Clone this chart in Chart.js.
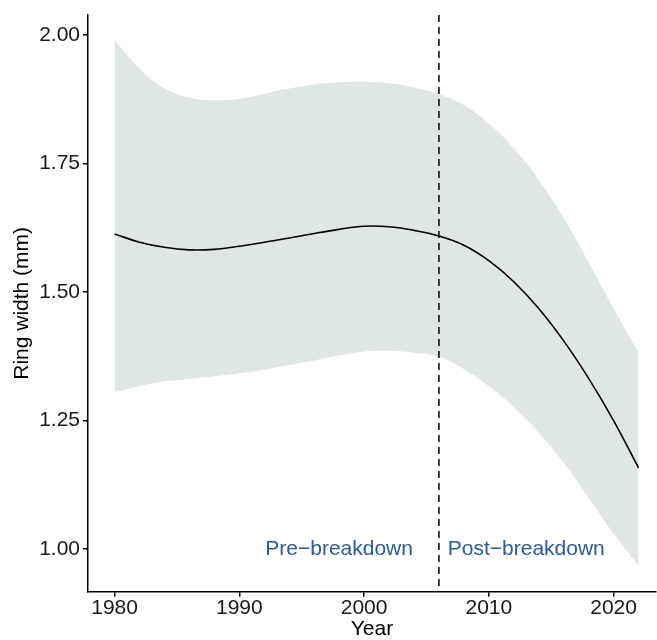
<!DOCTYPE html>
<html>
<head>
<meta charset="utf-8">
<script src="https://cdn.jsdelivr.net/npm/chart.js@4.4.1/dist/chart.umd.min.js"></script>
<style>
  body { margin: 0; background: #fff; }
  canvas { display: block; }
</style>
</head>
<body>
<canvas id="myChart" width="657" height="640"></canvas>
<script>
// values
var years = [1980, 1982, 1984, 1986, 1988, 1990, 1992, 1994, 1996, 1998, 2000,
             2002, 2004, 2006, 2008, 2010, 2012, 2014, 2016, 2018, 2020, 2022];
var fitValues = [1.613, 1.597, 1.587, 1.582, 1.583, 1.589, 1.597, 1.605, 1.614, 1.622, 1.628,
                 1.627, 1.620, 1.609, 1.591, 1.561, 1.520, 1.468, 1.405, 1.332, 1.250, 1.158];
var upperValues = [1.990, 1.935, 1.896, 1.878, 1.873, 1.876, 1.886, 1.896, 1.904, 1.908, 1.909,
                   1.906, 1.898, 1.885, 1.864, 1.828, 1.780, 1.718, 1.644, 1.558, 1.468, 1.383];
var lowerValues = [1.305, 1.317, 1.326, 1.331, 1.336, 1.342, 1.349, 1.358, 1.367, 1.377, 1.384,
                   1.386, 1.382, 1.374, 1.350, 1.317, 1.276, 1.226, 1.168, 1.100, 1.030, 0.967];
var xTicks = [1980, 1990, 2000, 2010, 2020];
var yTicks = [1.00, 1.25, 1.50, 1.75, 2.00];
var breakYear = 2006;
var labels = ["Pre−breakdown", "Post−breakdown"];
var labelYears = [1998, 2013];
var labelValue = 1.00;

var FONT = "'Liberation Sans', Arial, Helvetica, sans-serif";
var BAND = "rgb(223,231,227)";
var TEXT_BLUE = "#2a5b96";

function pts(values){
    return years.map(function(v, i){ return {x: v, y: values[i]}; });
}

// dashed break line and the two period labels
var breakPlugin = {
    id: "breakLine",
    afterDatasetsDraw: function(chart){
        var ctx = chart.ctx, area = chart.chartArea;
        var xs = chart.scales.x, ys = chart.scales.y;
        var px = xs.getPixelForValue(breakYear);
        ctx.save();
        ctx.strokeStyle = "#000";
        ctx.lineWidth = 1.5;
        ctx.setLineDash([7, 5]);
        ctx.beginPath();
        ctx.moveTo(px, area.top);
        ctx.lineTo(px, area.bottom);
        ctx.stroke();
        ctx.setLineDash([]);
        ctx.fillStyle = TEXT_BLUE;
        ctx.font = "21px " + FONT;
        ctx.textAlign = "center";
        ctx.textBaseline = "middle";
        labels.forEach(function(t, i){
            ctx.fillText(t, xs.getPixelForValue(labelYears[i]), ys.getPixelForValue(labelValue));
        });
        ctx.restore();
    }
};

var axisGrid = {display: true, drawOnChartArea: false, drawTicks: true, tickLength: 5, color: "#000", lineWidth: 1.5};
var axisBorder = {display: true, color: "#000", width: 1.5};

new Chart(document.getElementById("myChart").getContext("2d"), {
    type: "line",
    data: {
        datasets: [
            {data: pts(fitValues), borderColor: "#000", borderWidth: 1.6, pointRadius: 0,
             fill: false, tension: 0.4, order: 0},
            {data: pts(upperValues), borderWidth: 0, borderColor: "rgba(0,0,0,0)", pointRadius: 0,
             backgroundColor: BAND, fill: "+1", tension: 0.4, order: 1},
            {data: pts(lowerValues), borderWidth: 0, borderColor: "rgba(0,0,0,0)", pointRadius: 0,
             fill: false, tension: 0.4, order: 1}
        ]
    },
    options: {
        responsive: false,
        animation: false,
        devicePixelRatio: 1,
        layout: {padding: {top: 15, right: 1, left: 0, bottom: 0}},
        plugins: {legend: {display: false}, tooltip: {enabled: false}},
        scales: {
            x: {
                type: "linear", min: 1977.87, max: 2023.4,
                grid: axisGrid, border: axisBorder,
                afterBuildTicks: function(s){ s.ticks = xTicks.map(function(v){ return {value: v}; }); },
                afterFit: function(s){ s.height = 48.3; },
                ticks: {color: "#1a1a1a", padding: 1, maxRotation: 0,
                        font: {family: FONT, size: 21, lineHeight: 1},
                        callback: function(v){ return String(v); }},
                title: {display: true, text: "Year", color: "#000",
                        font: {family: FONT, size: 21, lineHeight: 1}, padding: {top: 0, bottom: 0}}
            },
            y: {
                type: "linear", min: 0.917, max: 2.039,
                grid: axisGrid, border: axisBorder,
                afterBuildTicks: function(s){ s.ticks = yTicks.map(function(v){ return {value: v}; }); },
                afterFit: function(s){ s.width = 88; },
                ticks: {color: "#1a1a1a", padding: 3,
                        font: {family: FONT, size: 21, lineHeight: 1},
                        callback: function(v){ return v.toFixed(2); }},
                title: {display: true, text: "Ring width (mm)", color: "#000",
                        font: {family: FONT, size: 21, lineHeight: 1}, padding: {top: 12, bottom: 0}}
            }
        }
    },
    plugins: [breakPlugin]
});
</script>
</body>
</html>
